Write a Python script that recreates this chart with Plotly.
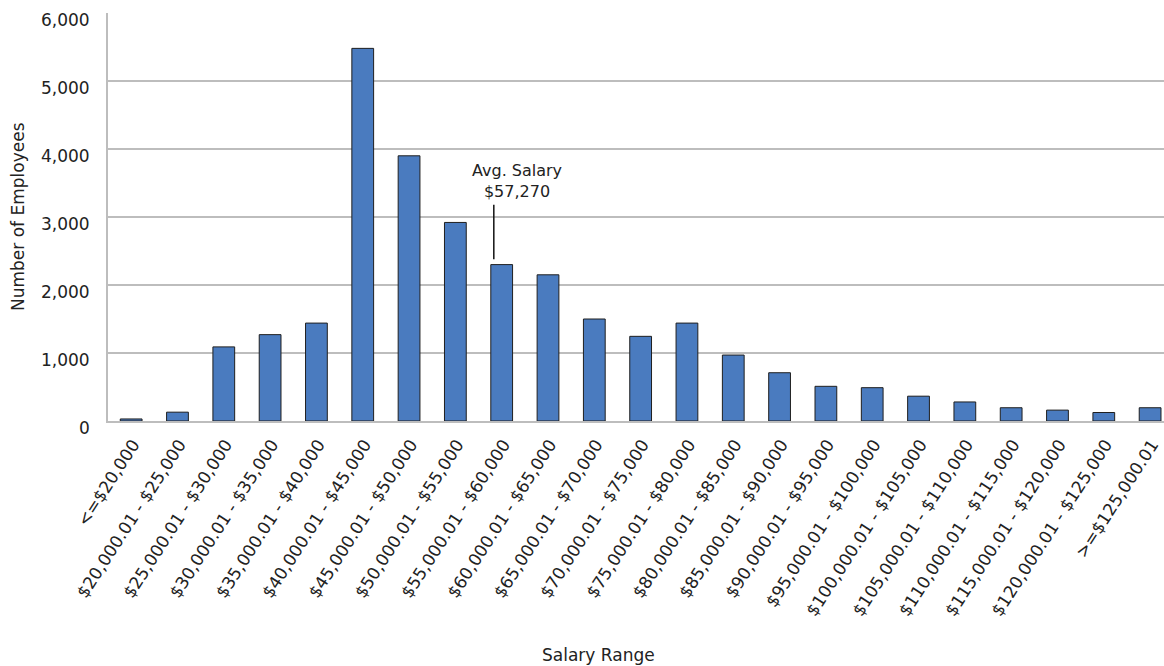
import plotly.graph_objects as go

# Salary buckets and headcount per bucket
salary_ranges = [
    "<=$20,000", "$20,000.01 - $25,000", "$25,000.01 - $30,000", "$30,000.01 - $35,000",
    "$35,000.01 - $40,000", "$40,000.01 - $45,000", "$45,000.01 - $50,000",
    "$50,000.01 - $55,000", "$55,000.01 - $60,000", "$60,000.01 - $65,000",
    "$65,000.01 - $70,000", "$70,000.01 - $75,000", "$75,000.01 - $80,000",
    "$80,000.01 - $85,000", "$85,000.01 - $90,000", "$90,000.01 - $95,000",
    "$95,000.01 - $100,000", "$100,000.01 - $105,000", "$105,000.01 - $110,000",
    "$110,000.01 - $115,000", "$115,000.01 - $120,000", "$120,000.01 - $125,000",
    ">=$125,000.01",
]
employees = [
    30, 130, 1090, 1270, 1440, 5480, 3900, 2920, 2300, 2150,
    1500, 1245, 1440, 970, 710, 510, 490, 365, 280, 195, 160, 125, 195,
]

y_ticks = [0, 1000, 2000, 3000, 4000, 5000, 6000]
y_tick_text = ["0", "1,000", "2,000", "3,000", "4,000", "5,000", "6,000"]

avg_label = "Avg. Salary<br>$57,270"
avg_marker_x = 7.83          # position of the average along the bucket axis
avg_line_y = [2380, 3180]    # vertical extent of the pointer line

FONT = "DejaVu Sans"
TEXT = "#222222"
GRID = "#BDBDBD"

x_idx = list(range(len(salary_ranges)))

fig = go.Figure()
fig.add_trace(go.Bar(
    x=x_idx,
    y=employees,
    width=0.47,
    marker=dict(color="#4A7BBF", line=dict(color="#1F1F1F", width=1)),
    hoverinfo="y",
))

fig.add_shape(
    type="line", xref="x", yref="y",
    x0=avg_marker_x, x1=avg_marker_x, y0=avg_line_y[0], y1=avg_line_y[1],
    line=dict(color="#111111", width=1.5),
)
fig.add_annotation(
    x=avg_marker_x + 0.5, y=avg_line_y[1], xref="x", yref="y",
    text=avg_label, showarrow=False, yanchor="bottom", yshift=2,
    font=dict(family=FONT, size=16, color=TEXT), align="center",
)

fig.update_layout(
    width=1164, height=666,
    margin=dict(l=108, r=0, t=13, b=245),
    paper_bgcolor="white", plot_bgcolor="white",
    font=dict(family=FONT, size=16, color=TEXT),
    showlegend=False,
    bargap=0.5,
    xaxis=dict(
        range=[-0.5, 22.3],
        tickmode="array", tickvals=x_idx, ticktext=salary_ranges,
        tickangle=-57, ticklabelstandoff=5, ticklabelshift=2,
        showgrid=False, zeroline=False,
        showline=True, linecolor=GRID, linewidth=2,
        tickfont=dict(family=FONT, size=17, color=TEXT),
    ),
    yaxis=dict(
        range=[0, 6000],
        tickmode="array", tickvals=y_ticks,
        showticklabels=False,
        showgrid=True, gridcolor=GRID, gridwidth=2,
        zeroline=False,
        showline=True, linecolor=GRID, linewidth=2,
    ),
)

# y tick labels, set slightly below their gridlines
for v, t in zip(y_ticks, y_tick_text):
    fig.add_annotation(
        text=t, xref="paper", yref="y", x=0, y=v,
        xanchor="right", yanchor="middle", xshift=-16, yshift=-7,
        showarrow=False, font=dict(family=FONT, size=17, color=TEXT),
    )

fig.add_annotation(
    text="Number of Employees", xref="paper", yref="paper",
    x=-108 / 1056, y=0.5, xanchor="left", yanchor="middle", xshift=6,
    textangle=-90, showarrow=False,
    font=dict(family=FONT, size=17, color=TEXT),
)
fig.add_annotation(
    text="Salary Range", xref="paper", yref="paper",
    x=(598 - 108) / 1056, y=-(655 - 421) / 408, xanchor="center", yanchor="middle",
    showarrow=False,
    font=dict(family=FONT, size=17, color=TEXT),
)

fig.write_html("out.html")
